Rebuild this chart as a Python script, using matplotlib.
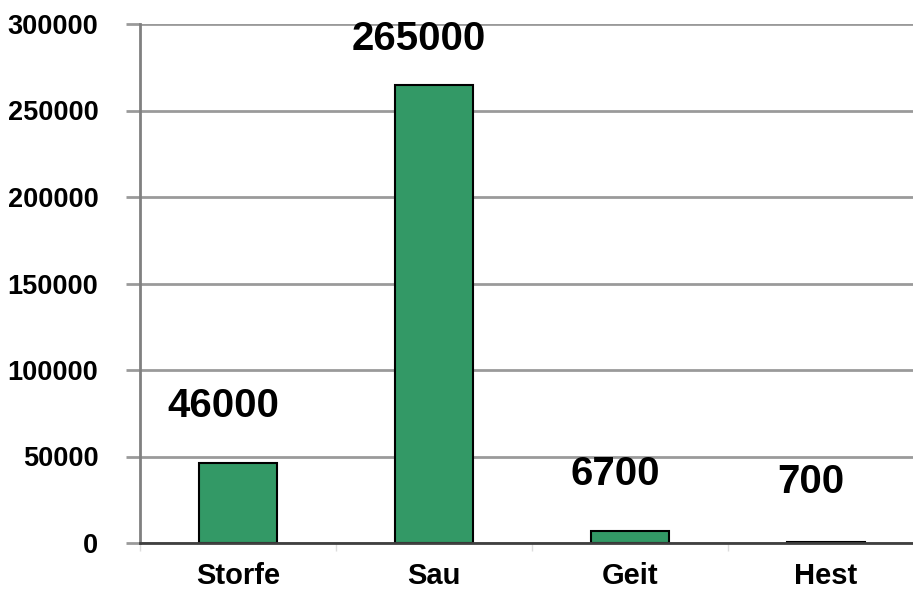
import matplotlib.pyplot as plt
import numpy as np

categories = ['Storfe', 'Sau', 'Geit', 'Hest']
values = [46000, 265000, 6700, 700]
value_labels = ['46000', '265000', '6700', '700']
yticks = [0, 50000, 100000, 150000, 200000, 250000, 300000]

plt.rcParams['font.family'] = ['Liberation Sans', 'DejaVu Sans']
plt.rcParams['font.weight'] = 'bold'

W, H = 913, 592
fig = plt.figure(figsize=(W / 100, H / 100), dpi=100)
ax = fig.add_axes([140 / W, 49 / H, 784 / W, 519 / H])

x = np.arange(len(categories))
ax.bar(x, values, width=0.4, color='#339966', edgecolor='black', linewidth=1.5, zorder=3)

# label offsets in pixels (the tallest one is pulled down to stay in the plot)
label_dy = [46, 35, 46, 49]
for xi, v, lab, dy in zip(x, values, value_labels, label_dy):
    ax.annotate(lab, (xi, v), xytext=(-15, dy), textcoords='offset pixels',
                ha='center', va='baseline', fontsize=29, fontweight='bold')

ax.set_xlim(-0.5, len(categories) - 0.5)
ax.set_ylim(0, 300000)
ax.set_yticks(yticks)
ax.set_yticklabels([str(t) for t in yticks], fontsize=19.5, fontweight='bold')
ax.yaxis.grid(True, color='#9a9a9a', linewidth=2, zorder=0)
ax.tick_params(axis='y', length=10, width=2, color='#9a9a9a', pad=20)

ax.set_xticks(x)
ax.set_xticklabels(categories, fontsize=21, fontweight='bold')
ax.tick_params(axis='x', length=0, pad=14)
ax.set_xticks(np.arange(len(categories) + 1) - 0.5, minor=True)
ax.tick_params(axis='x', which='minor', length=6, width=1, color='#dddddd')

for s in ['top', 'right']:
    ax.spines[s].set_visible(False)
ax.spines['left'].set_color('#808080')
ax.spines['left'].set_linewidth(2)
ax.spines['bottom'].set_color('#404040')
ax.spines['bottom'].set_linewidth(2)
ax.spines['bottom'].set_zorder(4)

fig.savefig('out.png', dpi=100)
